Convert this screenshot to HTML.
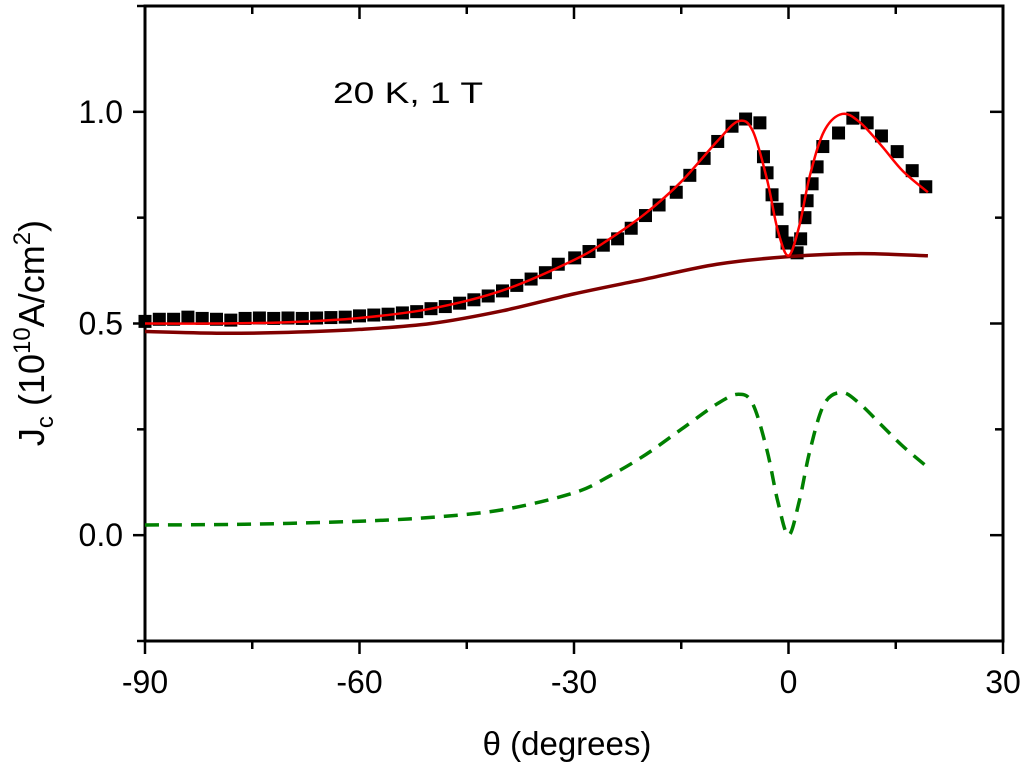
<!DOCTYPE html>
<html><head><meta charset="utf-8"><style>
html,body{margin:0;padding:0;background:#fff;}
svg{display:block;font-family:"Liberation Sans",Arial,sans-serif;}
</style></head><body>
<svg id="chart" width="1024" height="769" viewBox="0 0 1024 769" xmlns="http://www.w3.org/2000/svg">
<g id="axes"></g>
<g id="series"></g>
<text x="333" y="103" font-size="30" textLength="150" lengthAdjust="spacingAndGlyphs">20 K, 1 T</text>
<text x="567" y="755" font-size="33" text-anchor="middle">θ (degrees)</text>
<text transform="translate(44,333) rotate(-90)" font-size="36" text-anchor="middle"><tspan>J</tspan><tspan font-size="24" dy="9">c</tspan><tspan dy="-9"> (10</tspan><tspan font-size="24" dy="-14">10</tspan><tspan dy="14">A/cm</tspan><tspan font-size="24" dy="-14">2</tspan><tspan dy="14">)</tspan></text>
</svg>
<script>
const xTicks=[-90,-60,-30,0,30];
const xMinor=[-75,-45,-15,15];
const yTicks=[0,0.5,1.0];
const yTickLabels=["0.0","0.5","1.0"];
const yMinor=[-0.25,0.25,0.75,1.25];
const dataTheta=[-90,-88,-86,-84,-82,-80,-78,-76,-74,-72,-70,-68,-66,-64,-62,-60,-58,-56,-54,-52,-50,-48,-46,-44,-42,-40,-38,-36,-34,-32.2,-29.9,-27.9,-25.9,-23.9,-22,-20,-18.1,-15.7,-13.8,-11.8,-9.9,-7.9,-6,-4,-3.5,-3,-2.3,-1.6,-0.9,-0.2,1.2,1.7,2.3,2.6,3.3,4,4.8,7,9,11,13,15.2,17.3,19.2];
const dataJc=[0.505,0.51,0.51,0.515,0.512,0.51,0.508,0.512,0.513,0.512,0.513,0.512,0.513,0.514,0.515,0.518,0.52,0.522,0.525,0.528,0.535,0.54,0.548,0.556,0.565,0.577,0.59,0.605,0.62,0.64,0.655,0.67,0.685,0.7,0.725,0.755,0.78,0.81,0.85,0.89,0.93,0.966,0.983,0.974,0.894,0.856,0.804,0.77,0.717,0.69,0.667,0.70,0.75,0.79,0.83,0.87,0.918,0.95,0.985,0.974,0.943,0.906,0.861,0.823,0.80];
const fitTheta=[-90,-80,-70,-60,-50,-40,-30,-25,-20,-15,-10,-7,-5,-3,-1.5,0,1.5,3,5,7.5,10,13,16,19.5];
const fitJc=[0.50,0.50,0.503,0.513,0.535,0.578,0.65,0.70,0.76,0.835,0.93,0.978,0.955,0.84,0.72,0.66,0.73,0.85,0.955,0.995,0.975,0.92,0.86,0.81];
const baseTheta=[-90,-80,-70,-60,-50,-40,-30,-20,-10,0,10,19.5];
const baseJc=[0.481,0.477,0.479,0.486,0.50,0.53,0.57,0.605,0.64,0.658,0.665,0.66];
const compTheta=[-90,-75,-60,-50,-40,-30,-25,-20,-15,-10,-7,-5,-3,-1.5,0,1.5,3,5,7.5,10,13,16,19.5];
const compJc=[0.024,0.026,0.033,0.042,0.06,0.1,0.14,0.19,0.25,0.31,0.333,0.31,0.2,0.08,0.0,0.08,0.2,0.31,0.337,0.31,0.26,0.21,0.16];

const L=145,R=1003,T=6,B=641,xMin=-90,xMax=30,yMin=-0.25,yMax=1.25;
const xs=v=>L+(v-xMin)/(xMax-xMin)*(R-L);
const ys=v=>B-(v-yMin)/(yMax-yMin)*(B-T);
const NS="http://www.w3.org/2000/svg";
const axes=document.getElementById('axes'),series=document.getElementById('series');
function mk(tag,attrs,parent){const e=document.createElementNS(NS,tag);for(const k in attrs)e.setAttribute(k,attrs[k]);parent.appendChild(e);return e;}
function smooth(xa,ya){const p=xa.map((x,i)=>[xs(x),ys(ya[i])]);let d='M'+p[0][0]+','+p[0][1];
for(let i=0;i<p.length-1;i++){const p0=p[Math.max(0,i-1)],p1=p[i],p2=p[i+1],p3=p[Math.min(p.length-1,i+2)];
const c1=[p1[0]+(p2[0]-p0[0])/6,p1[1]+(p2[1]-p0[1])/6],c2=[p2[0]-(p3[0]-p1[0])/6,p2[1]-(p3[1]-p1[1])/6];
d+=' C'+c1[0]+','+c1[1]+' '+c2[0]+','+c2[1]+' '+p2[0]+','+p2[1];}return d;}

const frame=mk('rect',{x:L,y:T,width:R-L,height:B-T,fill:'none',stroke:'#000','stroke-width':3},axes);


xTicks.forEach(v=>{
 const t=mk('line',{x1:xs(v),x2:xs(v),y1:B,y2:B+13,stroke:'#000','stroke-width':2.5},axes);
 
 
 const t2=mk('line',{x1:xs(v),x2:xs(v),y1:T,y2:T+13,stroke:'#000','stroke-width':2.5},axes);
 
 
 const lb=mk('text',{x:xs(v),y:B+52,'font-size':32,'text-anchor':'middle'},axes);
 lb.textContent=String(v);
 
 
});
xMinor.forEach(v=>{
 const t=mk('line',{x1:xs(v),x2:xs(v),y1:B,y2:B+8,stroke:'#000','stroke-width':2.5},axes);
 
 
 const t2=mk('line',{x1:xs(v),x2:xs(v),y1:T,y2:T+8,stroke:'#000','stroke-width':2.5},axes);
 
 
});
yTicks.forEach((v,i)=>{
 const t=mk('line',{x1:L-12,x2:L,y1:ys(v),y2:ys(v),stroke:'#000','stroke-width':2.5},axes);
 
 
 const t2=mk('line',{x1:R-13,x2:R,y1:ys(v),y2:ys(v),stroke:'#000','stroke-width':2.5},axes);
 
 
 const lb=mk('text',{x:L-22,y:ys(v)+11,'font-size':32,'text-anchor':'end'},axes);
 lb.textContent=yTickLabels[i];
 
 
});
yMinor.forEach(v=>{
 const t=mk('line',{x1:L-8,x2:L,y1:ys(v),y2:ys(v),stroke:'#000','stroke-width':2.5},axes);
 
 
 const t2=mk('line',{x1:R-8,x2:R,y1:ys(v),y2:ys(v),stroke:'#000','stroke-width':2.5},axes);
 
 
});
dataTheta.forEach((v,i)=>{
 const s=mk('rect',{x:xs(v)-6.5,y:ys(dataJc[i])-6.5,width:13,height:13,fill:'#000'},series);
 
 
});
const base=mk('path',{d:smooth(baseTheta,baseJc),fill:'none',stroke:'#800000','stroke-width':3.5},series);


const comp=mk('path',{d:smooth(compTheta,compJc),fill:'none',stroke:'#008000','stroke-width':3.5,'stroke-dasharray':'14,9'},series);


const fit=mk('path',{d:smooth(fitTheta,fitJc),fill:'none',stroke:'#ff0000','stroke-width':2.5},series);


</script>
</body></html>
